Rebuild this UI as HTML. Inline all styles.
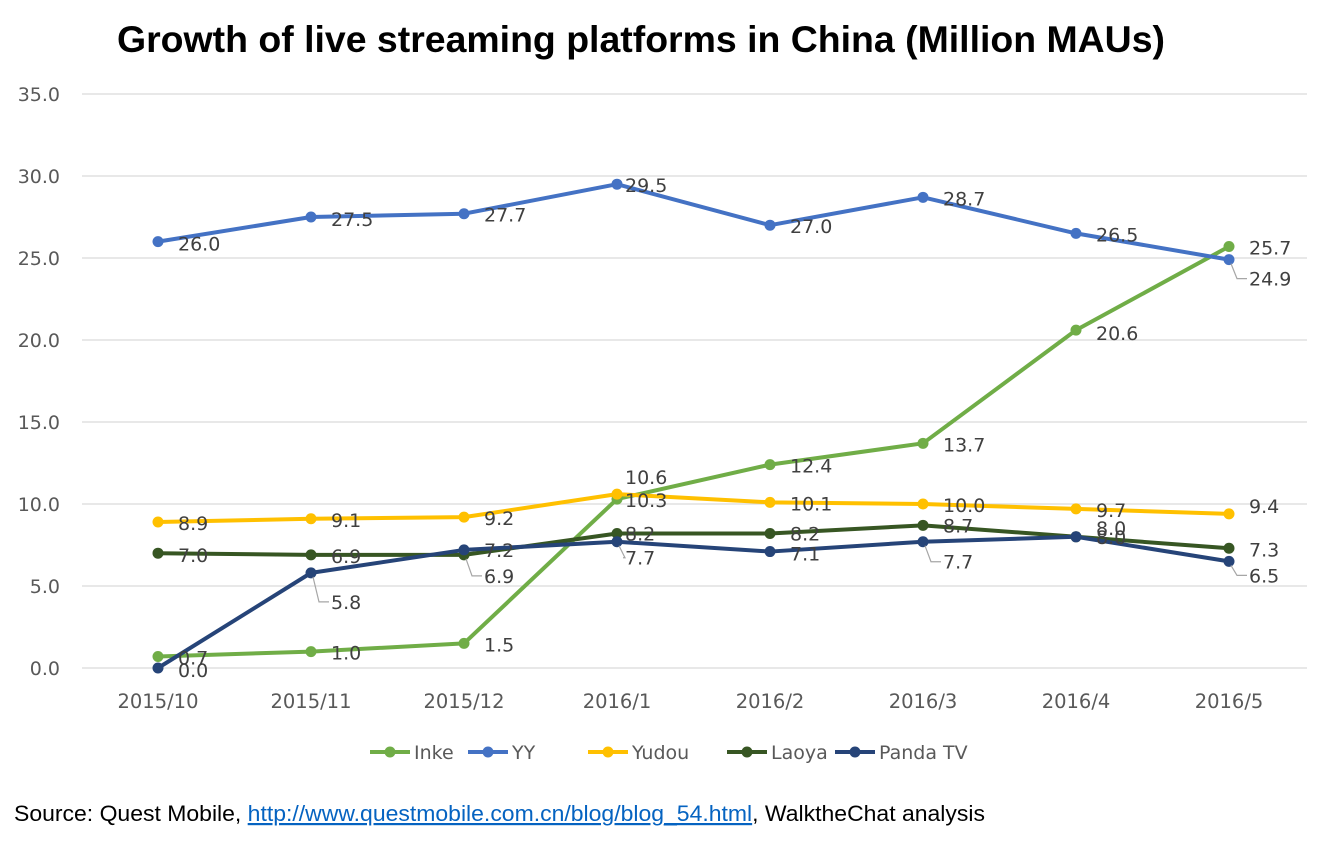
<!DOCTYPE html>
<html><head><meta charset="utf-8"><style>
body{margin:0;background:#fff;width:1334px;height:841px;overflow:hidden;font-family:"Liberation Sans",Arial,sans-serif}
</style></head><body>
<svg id="c" width="1334" height="841" xmlns="http://www.w3.org/2000/svg">
<text x="641" y="52" text-anchor="middle" font-size="37" font-weight="bold" textLength="1048" lengthAdjust="spacingAndGlyphs">Growth of live streaming platforms in China (Million MAUs)</text>
<text x="14" y="821" font-size="22" textLength="971" lengthAdjust="spacingAndGlyphs">Source: Quest Mobile, <tspan fill="#0563c1" text-decoration="underline">http://www.questmobile.com.cn/blog/blog_54.html</tspan>, WalktheChat analysis</text>
</svg>
<script>
const categories=["2015/10","2015/11","2015/12","2016/1","2016/2","2016/3","2016/4","2016/5"];
const yTicks=[0,5,10,15,20,25,30,35];
const seriesNames=["Inke","YY","Yudou","Laoya","Panda TV"];
const inke=[0.7,1.0,1.5,10.3,12.4,13.7,20.6,25.7];
const yy=[26.0,27.5,27.7,29.5,27.0,28.7,26.5,24.9];
const yudou=[8.9,9.1,9.2,10.6,10.1,10.0,9.7,9.4];
const laoya=[7.0,6.9,6.9,8.2,8.2,8.7,8.0,7.3];
const panda=[0.0,5.8,7.2,7.7,7.1,7.7,8.0,6.5];
const colors=["#70AD47","#4472C4","#FFC000","#375623","#264478"];
const svg=document.getElementById('c');
const NS="http://www.w3.org/2000/svg";
const FONT='"DejaVu Sans", "Liberation Sans", sans-serif';
const x=i=>158+i*153;
const y=v=>668-v*(574/35);
function mk(t,a,p){const e=document.createElementNS(NS,t);for(const k in a)e.setAttribute(k,a[k]);(p||svg).appendChild(e);return e;}
yTicks.forEach(t=>{
 const g=mk('line',{x1:82,x2:1307,y1:y(t),y2:y(t),stroke:'#d9d9d9','stroke-width':1.3});
 
 
 const l=mk('text',{x:60,y:y(t)+7,'text-anchor':'end','font-size':19,'font-family':FONT,fill:'#595959'});l.textContent=t.toFixed(1);
 
 
});
categories.forEach((c,i)=>{
 const l=mk('text',{x:x(i),y:708,'text-anchor':'middle','font-size':19.5,'font-family':FONT,fill:'#595959'});l.textContent=c;
 
 
});
const all=[inke,yy,yudou,laoya,panda];
const off=[
 [[20,8],[20,8],[20,8],[8,8],[20,8],[20,8],[20,10],[20,8]],
 [[20,9],[20,9],[20,8],[8,8],[20,8],[20,8],[20,8],[20,26]],
 [[20,8],[20,8],[20,8],[8,-10],[20,8],[20,8],[20,8],[20,-1]],
 [[20,9],[20,8],[20,28],[8,7],[20,7],[20,7],[20,7],[20,8]],
 [[20,9],[20,36],[20,7],[8,23],[20,9],[20,27],[20,-2],[20,21]]
];
all.forEach((d,s)=>{
 const pts=d.map((v,i)=>x(i)+','+y(v)).join(' ');
 const pl=mk('polyline',{points:pts,fill:'none',stroke:colors[s],'stroke-width':4,'stroke-linejoin':'round'});
 
 
});
all.forEach((d,s)=>{
 d.forEach((v,i)=>{
  const c=mk('circle',{cx:x(i),cy:y(v),r:5.5,fill:colors[s]});
  
  
 });
});
all.forEach((d,s)=>{
 d.forEach((v,i)=>{
  const o=off[s][i];
  if(Math.abs(o[1])>15){
   const ty=y(v)+o[1]-7;
   mk('polyline',{points:`${x(i)+2},${y(v)+(o[1]>0?4:-4)} ${x(i)+8},${ty} ${x(i)+o[0]-2},${ty}`,fill:'none',stroke:'#a6a6a6','stroke-width':1.2});
  }
  const t=mk('text',{x:x(i)+o[0],y:y(v)+o[1],'font-size':19,'font-family':FONT,fill:'#404040'});t.textContent=v.toFixed(1);
  
  
 });
});
const lx=[370,468,588,727,835];
seriesNames.forEach((n,s)=>{
 const g=mk('g',{});
 
 
 mk('line',{x1:lx[s],x2:lx[s]+40,y1:752,y2:752,stroke:colors[s],'stroke-width':4},g);
 mk('circle',{cx:lx[s]+20,cy:752,r:5.5,fill:colors[s]},g);
 const t=mk('text',{x:lx[s]+44,y:759,'font-size':19,'font-family':FONT,fill:'#595959'},g);t.textContent=n;
});
</script>
</body></html>
